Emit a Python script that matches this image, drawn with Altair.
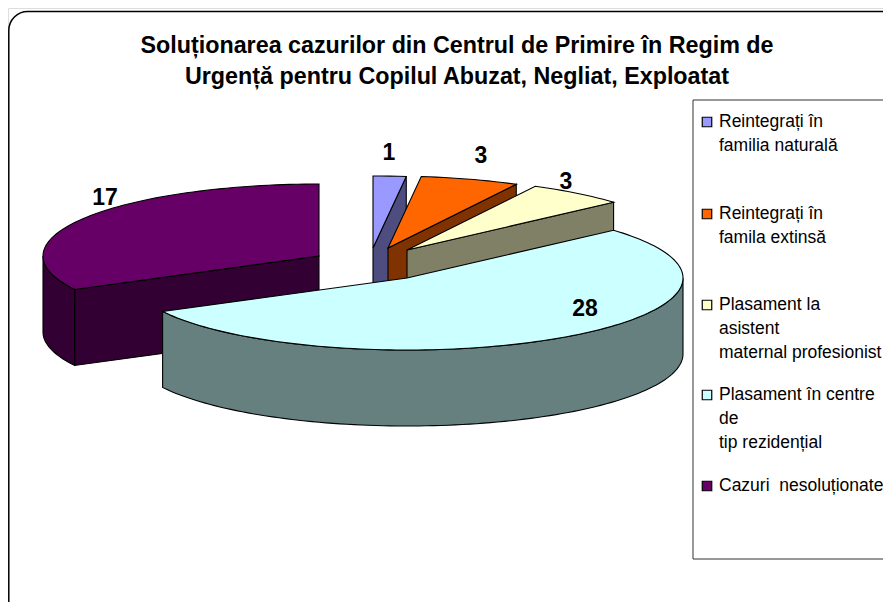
import math
import altair as alt

# ---- data ----
categories = ["Reintegrați în familia naturală", "Reintegrați în famila extinsă",
              "Plasament la asistent maternal profesionist",
              "Plasament în centre de tip rezidențial", "Cazuri nesoluționate"]
values = [1, 3, 3, 28, 17]
top_colors = ["#9999ff", "#ff6600", "#ffffcc", "#ccffff", "#660066"]
side_colors = ["#4d4d80", "#803300", "#808066", "#668080", "#330033"]
legend_lines = [["Reintegrați în", "familia naturală"],
                ["Reintegrați în", "famila extinsă"],
                ["Plasament la", "asistent", "maternal profesionist"],
                ["Plasament în centre", "de", " tip rezidențial"],
                ["Cazuri  nesoluționate"]]
title_lines = ["Soluționarea cazurilor din Centrul de Primire în Regim de",
               "Urgență pentru Copilul Abuzat, Negliat, Exploatat"]

# ---- layout (image pixels; the page margin is taken off below) ----
M = 8
apex = [(373, 248), (388, 248), (407, 250), (407, 278), (319, 256)]
RX, RY, DEPTH = 276, 72, 76
draw_order = [0, 1, 2, 4, 3]
label_pos = [(389, 153), (481, 156), (566, 182), (585, 309), (105, 198)]
legend_y = [122, 214, 305, 395, 486]
LINE_H = 24


def pt(i, deg, d=0):
    a = math.radians(deg)
    return [apex[i][0] + RX * math.sin(a) - M, apex[i][1] - RY * math.cos(a) + d - M]


def arc(i, a0, a1, d=0):
    n = max(2, int(abs(a1 - a0) / 1.5) + 1)
    return [pt(i, a0 + (a1 - a0) * k / (n - 1), d) for k in range(n)]


def feature(ring, fill):
    ring = ring + [ring[0]]
    return {"type": "Feature", "properties": {"fill": fill},
            "geometry": {"type": "Polygon", "coordinates": [ring]}}


total = sum(values)
starts, acc = [], 0
for v in values:
    starts.append(acc * 360 / total)
    acc += v

features = []
for i in draw_order:
    a0 = starts[i]
    a1 = a0 + values[i] * 360 / total
    c = [apex[i][0] - M, apex[i][1] - M]
    cd = [c[0], c[1] + DEPTH]
    if math.sin(math.radians(a1)) > 0:
        features.append(feature([c, pt(i, a1), pt(i, a1, DEPTH), cd], side_colors[i]))
    if math.sin(math.radians(a0)) < 0:
        features.append(feature([c, pt(i, a0), pt(i, a0, DEPTH), cd], side_colors[i]))
    w0, w1 = max(a0, 90), min(a1, 270)
    if w1 > w0:
        features.append(feature(arc(i, w0, w1) + arc(i, w1, w0, DEPTH), side_colors[i]))
    features.append(feature([c] + arc(i, a0, a1), top_colors[i]))

pie_data = alt.InlineData(values={"type": "FeatureCollection", "features": features},
                          format=alt.JsonDataFormat(type="json", property="features"))
pie = alt.Chart(pie_data).mark_geoshape(stroke="black", strokeWidth=1.1).encode(
    fill=alt.Fill("properties.fill:N", scale=None)
).project(type="identity", scale=1, translate=[0, 0], reflectY=False)

X = alt.X("x:Q", scale=None, axis=None)
Y = alt.Y("y:Q", scale=None, axis=None)
X2 = alt.X2("x2:Q")
Y2 = alt.Y2("y2:Q")

frame = alt.Chart(alt.Data(values=[{"x": 0.8, "x2": 960, "y": 11.5 - M, "y2": 612}])).mark_rect(
    fill="white", stroke="black", strokeWidth=1.5, cornerRadius=19
).encode(x=X, x2=X2, y=Y, y2=Y2)

legend_box = alt.Chart(alt.Data(values=[{"x": 693 - M, "x2": 960, "y": 100 - M, "y2": 559 - M}])).mark_rect(
    fill="white", stroke="#333333", strokeWidth=1
).encode(x=X, x2=X2, y=Y, y2=Y2)

title_rows = [{"x": 457 - M, "y": 46 + k * 31 - M, "t": t} for k, t in enumerate(title_lines)]
title = alt.Chart(alt.Data(values=title_rows)).mark_text(
    font="Liberation Sans", fontSize=23.3, fontWeight="bold", color="black",
    align="center", baseline="middle"
).encode(x=X, y=Y, text="t:N")

label_rows = [{"x": p[0] - M, "y": p[1] - M, "t": str(v)} for p, v in zip(label_pos, values)]
labels = alt.Chart(alt.Data(values=label_rows)).mark_text(
    font="Liberation Sans", fontSize=23, fontWeight="bold", color="black",
    align="center", baseline="middle"
).encode(x=X, y=Y, text="t:N")

swatch_rows = [{"x": 707 - M, "y": y - M, "c": c} for y, c in zip(legend_y, top_colors)]
swatches = alt.Chart(alt.Data(values=swatch_rows)).mark_square(
    size=90, stroke="black", strokeWidth=1.2, opacity=1
).encode(x=X, y=Y, fill=alt.Fill("c:N", scale=None))

legend_rows = []
for y, lines in zip(legend_y, legend_lines):
    for k, t in enumerate(lines):
        legend_rows.append({"x": 719 - M, "y": y + k * LINE_H - M,
                            "t": t.replace(" ", "\u00a0")})
legend_text = alt.Chart(alt.Data(values=legend_rows)).mark_text(
    font="Liberation Sans", fontSize=17.5, color="black", align="left", baseline="middle"
).encode(x=X, y=Y, text="t:N")

chart = alt.layer(frame, pie, legend_box, title, labels, swatches, legend_text).properties(
    width=875, height=594, padding=0,
    autosize=alt.AutoSizeParams(type="none")
).configure_view(stroke=None).configure(background="white")

chart.save("out.html", embed_options={"renderer": "svg", "actions": False})
